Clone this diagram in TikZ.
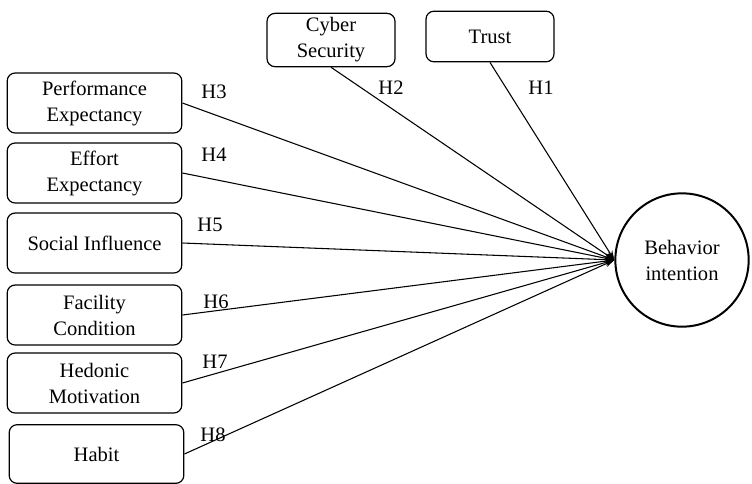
\documentclass[tikz,border=0pt]{standalone}
\usepackage{fontspec}
\setmainfont{Liberation Serif}
\usetikzlibrary{arrows.meta, positioning}

\begin{document}
\begin{tikzpicture}[
  x=0.75pt, y=-0.75pt,
  box/.style={rectangle, rounded corners=6pt, draw, line width=0.9pt,
              minimum width=131pt, minimum height=45pt, align=center,
              inner sep=2pt, font=\fontsize{15.4}{19.5}\selectfont},
  topbox/.style={box, minimum width=96pt, minimum height=40pt},
  target/.style={circle, draw, line width=1.5pt, minimum size=100pt,
              align=center, inner sep=1pt, font=\fontsize{15.4}{19.5}\selectfont},
  hyp/.style={font=\fontsize{15.4}{19.5}\selectfont, inner sep=1pt},
  arrow/.style={-{Stealth[length=7pt, width=5pt]}, line width=0.8pt}
]
\useasboundingbox (0,0) rectangle (752,483);

\node[box] (pe) at (94.5,103) {Performance\\Expectancy};
\node[box] (ee) at (94.5,173) {Effort\\Expectancy};
\node[box] (si) at (94.5,243) {Social Influence};
\node[box] (fc) at (94.5,315) {Facility\\Condition};
\node[box] (hm) at (94.5,383) {Hedonic\\Motivation};
\node[box, minimum height=44pt] (hb) at (96.5,454) {Habit};

\node[topbox] (cs) at (331,40) {Cyber\\Security};
\node[topbox, minimum height=38pt] (tr) at (490,36.5) {Trust};

\node[target] (bi) at (682,260) {Behavior\\intention};

\draw[arrow] (tr.south) -- (bi.west);
\draw[arrow] (cs.south) -- (bi.west);
\draw[arrow] (pe.east) -- (bi.west);
\draw[arrow] (ee.east) -- (bi.west);
\draw[arrow] (si.east) -- (bi.west);
\draw[arrow] (fc.east) -- (bi.west);
\draw[arrow] (hm.east) -- (bi.west);
\draw[arrow] (hb.east) -- (bi.west);

\node[hyp] (h1) at (541,88) {H1};
\node[hyp] (h2) at (391,88) {H2};
\node[hyp] (h3) at (214,92) {H3};
\node[hyp] (h4) at (214,155) {H4};
\node[hyp] (h5) at (210,225) {H5};
\node[hyp] (h6) at (216,302) {H6};
\node[hyp] (h7) at (215,362) {H7};
\node[hyp] (h8) at (213,435) {H8};

\end{tikzpicture}
\end{document}
